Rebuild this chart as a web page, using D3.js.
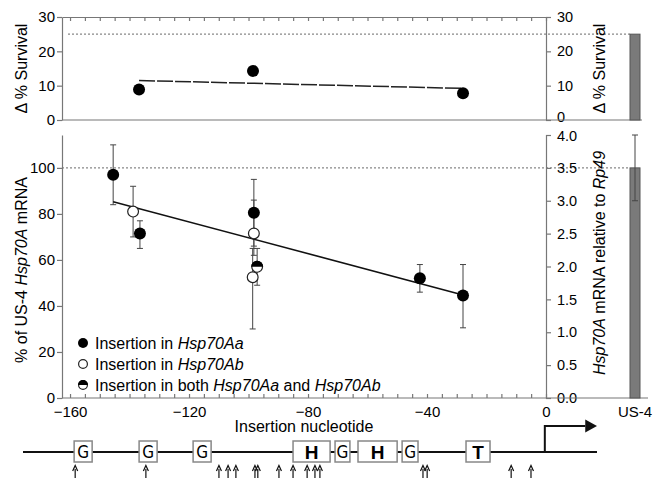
<!DOCTYPE html>
<html><head><meta charset="utf-8">
<script src="https://cdn.jsdelivr.net/npm/d3@7/dist/d3.min.js"></script>
<style>
body{margin:0;background:#fff;}
text{font-family:"Liberation Sans",Arial,sans-serif;fill:#000;}
</style></head>
<body><svg id="c" width="664" height="478"></svg>
<script>
// ---------- data ----------
const xTickValues = [-160, -120, -80, -40, 0];
const survivalTicks = [0, 10, 20, 30];
const mrnaTicksLeft = [0, 20, 40, 60, 80, 100];
const mrnaTicksRight = [0, 0.5, 1, 1.5, 2, 2.5, 3, 3.5, 4];

// top panel: delta % survival
const survivalPos = [-136.8, -98.5, -27.9];
const survivalVal = [8.9, 14.3, 7.8];
const survivalFitPos = [-136.8, -27.9];
const survivalFitVal = [11.5, 9.2];
const survivalUS4 = 25;

// bottom panel: % of US-4 Hsp70A mRNA
const mrnaPos  = [-145.5, -136.5, -98.2, -42.4, -27.9, -138.8, -98.2, -98.6, -97.1];
const mrnaVal  = [97, 71.5, 80.5, 52, 44.5, 81, 71.5, 52.5, 57];
const mrnaLo   = [84, 65, 66, 46, 30.5, 70, 62, 30, 49];
const mrnaHi   = [110, 77, 95, 58, 58, 92, 86, 65, 65];
const mrnaType = ["a", "a", "a", "a", "a", "b", "b", "b", "both"];
const mrnaFitPos = [-145.5, -27.9];
const mrnaFitVal = [85.3, 44.8];
const us4Category = ["US-4"];
const us4Mrna = 3.5, us4MrnaLo = 3.0, us4MrnaHi = 4.0;

const legendTypes = ["a", "b", "both"];

// promoter diagram (nucleotide-like coordinate)
const boxStart = [-180.4, -155.5, -134.8, -96.5, -80.4, -71.6, -54.7, -30.2];
const boxEnd   = [-173.5, -148.6, -127.9, -82.3, -74.7, -56.6, -48.6, -21.0];
const boxLabel = ["G", "G", "G", "H", "G", "H", "G", "T"];
const insertSites = [-180, -152.9, -124.9, -121.4, -118.4, -111.1, -110, -101.9, -96.5, -91.1, -88.1, -86.2, -46.7, -45.1, -12.9, -5.3];

// ---------- drawing ----------
const svg = d3.select("#c");
const x = d3.scaleLinear().domain([-162.7, 0]).range([62, 546]);
const yS = d3.scaleLinear().domain([0, 30]).range([120, 17]);
const yL = d3.scaleLinear().domain([0, 114.29]).range([398, 135]);
const yR = d3.scaleLinear().domain([0, 4]).range([398, 135]);
const band = d3.scaleBand().domain(us4Category).range([615, 655]).paddingInner(0).paddingOuter(1.5);
const axisCol = "#777";
const minorTicks = d3.range(-160, 0.1, 5);

function styleAxis(g, size){
  g.selectAll("path,line").attr("stroke", axisCol).attr("stroke-width", 1.2);
  g.selectAll("text").style("font-size", (size || 15) + "px").attr("fill", "#000");
}

// ---- top panel ----
svg.append("line").attr("x1", 68).attr("x2", band("US-4")).attr("y1", yS(survivalUS4)).attr("y2", yS(survivalUS4))
  .attr("stroke", "#888").attr("stroke-width", 1.2).attr("stroke-dasharray", "2,2");
svg.append("g").attr("transform", "translate(62,0)")
  .call(d3.axisLeft(yS).tickValues(survivalTicks).tickSize(5).tickPadding(2).tickSizeOuter(0)).call(styleAxis);
const rTop = svg.append("g").attr("transform", "translate(546,0)")
  .call(d3.axisRight(yS).tickValues(survivalTicks).tickSize(5).tickPadding(6).tickSizeOuter(0)).call(styleAxis, 14.5);
rTop.selectAll(".tick text").filter(d => d === 0).attr("dy", "0.1em");
svg.append("g").attr("transform", `translate(0,${yS(30)})`)
  .call(d3.axisTop(x).tickValues(minorTicks).tickSize(-4).tickFormat("").tickSizeOuter(0)).call(styleAxis);
svg.append("line").attr("x1", 62).attr("x2", 642).attr("y1", yS(0)).attr("y2", yS(0)).attr("stroke", axisCol).attr("stroke-width", 1.2);
svg.append("rect").attr("x", band("US-4")).attr("width", band.bandwidth())
  .attr("y", yS(survivalUS4)).attr("height", yS(0) - yS(survivalUS4))
  .attr("fill", "#7a7a7a").attr("stroke", "#555").attr("stroke-width", 1);
svg.append("line").attr("x1", x(survivalFitPos[0])).attr("x2", x(survivalFitPos[1]))
  .attr("y1", yS(survivalFitVal[0])).attr("y2", yS(survivalFitVal[1]))
  .attr("stroke", "#222").attr("stroke-width", 1.5).attr("stroke-dasharray", "16,2");
svg.append("g").selectAll("circle").data(survivalPos).join("circle")
  .attr("cx", d => x(d)).attr("cy", (d, i) => yS(survivalVal[i])).attr("r", 6).attr("fill", "#000");
svg.append("text").attr("transform", `translate(27,${(yS(0)+yS(30))/2}) rotate(-90)`)
  .attr("text-anchor", "middle").style("font-size", "16px").text("Δ % Survival");
svg.append("text").attr("transform", `translate(605,${(yS(0)+yS(30))/2}) rotate(-90)`)
  .attr("text-anchor", "middle").style("font-size", "16px").text("Δ % Survival");

// ---- bottom panel ----
svg.append("line").attr("x1", 62).attr("x2", band("US-4")).attr("y1", yL(100)).attr("y2", yL(100))
  .attr("stroke", "#888").attr("stroke-width", 1.2).attr("stroke-dasharray", "2,2");
svg.append("g").attr("transform", "translate(62,0)")
  .call(d3.axisLeft(yL).tickValues(mrnaTicksLeft).tickSize(5).tickPadding(2).tickSizeOuter(0)).call(styleAxis);
const rBot = svg.append("g").attr("transform", "translate(546,0)")
  .call(d3.axisRight(yR).tickValues(mrnaTicksRight).tickFormat(d3.format(".1f")).tickSize(5).tickPadding(6).tickSizeOuter(4)).call(styleAxis, 14.5);
rBot.selectAll(".tick text").filter(d => d === 4).attr("dy", "0.4em");
svg.append("g").attr("transform", `translate(0,${yL(0)})`)
  .call(d3.axisBottom(x).tickValues(minorTicks).tickSize(-4).tickFormat("").tickSizeOuter(0)).call(styleAxis)
  .select(".domain").remove();
svg.append("line").attr("x1", 62).attr("x2", 648).attr("y1", yL(0)).attr("y2", yL(0)).attr("stroke", axisCol).attr("stroke-width", 1.2);
const xl = svg.append("g").attr("transform", `translate(0,${yL(0)})`)
  .call(d3.axisBottom(x).tickValues(xTickValues).tickSize(0).tickPadding(8).tickFormat(d3.format("d")));
xl.select(".domain").remove();
xl.selectAll("text").style("font-size", "15px");
const bl = svg.append("g").attr("transform", `translate(0,${yL(0)})`)
  .call(d3.axisBottom(band).tickSize(0).tickPadding(8));
bl.select(".domain").remove();
bl.selectAll("text").style("font-size", "15px");
svg.append("text").attr("x", 304).attr("y", 432).attr("text-anchor", "middle").style("font-size", "16px").text("Insertion nucleotide");

svg.append("rect").attr("x", band("US-4")).attr("width", band.bandwidth())
  .attr("y", yR(us4Mrna)).attr("height", yR(0) - yR(us4Mrna))
  .attr("fill", "#7a7a7a").attr("stroke", "#555").attr("stroke-width", 1);
const bcx = band("US-4") + band.bandwidth() / 2;
svg.append("line").attr("x1", bcx).attr("x2", bcx).attr("y1", yR(us4MrnaLo)).attr("y2", yR(us4MrnaHi)).attr("stroke", "#444");
[us4MrnaLo, us4MrnaHi].forEach(v => svg.append("line").attr("x1", bcx - 3).attr("x2", bcx + 3).attr("y1", yR(v)).attr("y2", yR(v)).attr("stroke", "#444"));

const eb = svg.append("g").attr("stroke", "#444").attr("stroke-width", 1);
mrnaPos.forEach((p, i) => {
  const cx = x(p);
  eb.append("line").attr("x1", cx).attr("x2", cx).attr("y1", yL(mrnaLo[i])).attr("y2", yL(mrnaHi[i]));
  [mrnaLo[i], mrnaHi[i]].forEach(v => eb.append("line").attr("x1", cx - 3).attr("x2", cx + 3).attr("y1", yL(v)).attr("y2", yL(v)));
});
svg.append("line").attr("x1", x(mrnaFitPos[0])).attr("x2", x(mrnaFitPos[1]))
  .attr("y1", yL(mrnaFitVal[0])).attr("y2", yL(mrnaFitVal[1]))
  .attr("stroke", "#111").attr("stroke-width", 1.6);

const halfArc = d3.arc().innerRadius(0).startAngle(-Math.PI / 2).endAngle(Math.PI / 2);
function marker(g, type, cx, cy, r){
  if (type === "a") {
    g.append("circle").attr("cx", cx).attr("cy", cy).attr("r", r).attr("fill", "#000");
  } else if (type === "b") {
    g.append("circle").attr("cx", cx).attr("cy", cy).attr("r", r - 0.6).attr("fill", "#fff").attr("stroke", "#222").attr("stroke-width", 1.2);
  } else {
    g.append("circle").attr("cx", cx).attr("cy", cy).attr("r", r - 0.6).attr("fill", "#fff").attr("stroke", "#222").attr("stroke-width", 1.2);
    g.append("path").attr("transform", `translate(${cx},${cy})`).attr("d", halfArc.outerRadius(r)()).attr("fill", "#000");
  }
}
const pts = svg.append("g");
mrnaPos.forEach((p, i) => marker(pts, mrnaType[i], x(p), yL(mrnaVal[i]), 6));

const lt = svg.append("text").attr("transform", `translate(27,270) rotate(-90)`).attr("text-anchor", "middle").style("font-size", "16px");
lt.append("tspan").text("% of US-4 ");
lt.append("tspan").style("font-style", "italic").text("Hsp70A");
lt.append("tspan").text(" mRNA");
const rt = svg.append("text").attr("transform", `translate(605,263) rotate(-90)`).attr("text-anchor", "middle").style("font-size", "16px");
rt.append("tspan").style("font-style", "italic").text("Hsp70A");
rt.append("tspan").text(" mRNA relative to ");
rt.append("tspan").style("font-style", "italic").text("Rp49");

const legendRows = [
  [["Insertion in ", false], ["Hsp70Aa", true]],
  [["Insertion in ", false], ["Hsp70Ab", true]],
  [["Insertion in both ", false], ["Hsp70Aa", true], [" and ", false], ["Hsp70Ab", true]]
];
const lg = svg.append("g");
legendTypes.forEach((t, i) => {
  const yy = 343 + i * 21;
  marker(lg, t, 83, yy, 5);
  const tx = lg.append("text").attr("x", 95).attr("y", yy).attr("dy", "0.35em").style("font-size", "16px");
  legendRows[i].forEach(([s, it]) => tx.append("tspan").style("font-style", it ? "italic" : "normal").text(s));
});

// ---- promoter diagram ----
const xd = d3.scaleLinear().domain([-200, 20]).range([23, 597]);
const dy = 452;
svg.append("line").attr("x1", xd(-200)).attr("x2", xd(20)).attr("y1", dy).attr("y2", dy).attr("stroke", "#111").attr("stroke-width", 2);
const bx = svg.append("g");
boxStart.forEach((s, i) => {
  bx.append("rect").attr("x", xd(s)).attr("width", xd(boxEnd[i]) - xd(s)).attr("y", dy - 11).attr("height", 21)
    .attr("fill", "#fff").attr("stroke", "#888").attr("stroke-width", 1.5);
  const lab = boxLabel[i];
  bx.append("text").attr("x", (xd(s) + xd(boxEnd[i])) / 2).attr("y", dy).attr("dy", "0.36em").attr("text-anchor", "middle")
    .style("font-family", lab === "G" ? "'DejaVu Sans Condensed','DejaVu Sans',sans-serif" : "'Liberation Sans',Arial,sans-serif")
    .style("font-weight", lab === "G" ? "normal" : "bold")
    .style("font-size", lab === "G" ? "17px" : "19px").text(lab);
});
svg.append("path").attr("d", `M${xd(0)},${dy}V${dy - 26}H${xd(15.5)}`).attr("fill", "none").attr("stroke", "#111").attr("stroke-width", 2);
svg.append("path").attr("d", `M${xd(15.5)},${dy - 32.5}L${xd(20)},${dy - 26}L${xd(15.5)},${dy - 19.5}Z`).attr("fill", "#111");
const ia = svg.append("g");
insertSites.forEach(s => {
  const ax = xd(s);
  ia.append("line").attr("x1", ax).attr("x2", ax).attr("y1", 469).attr("y2", 480).attr("stroke", "#111").attr("stroke-width", 1.2);
  ia.append("path").attr("d", `M${ax - 2.5},${471}L${ax},${465.5}L${ax + 2.5},${471}`).attr("fill", "none").attr("stroke", "#111").attr("stroke-width", 1.2);
});
</script></body></html>
